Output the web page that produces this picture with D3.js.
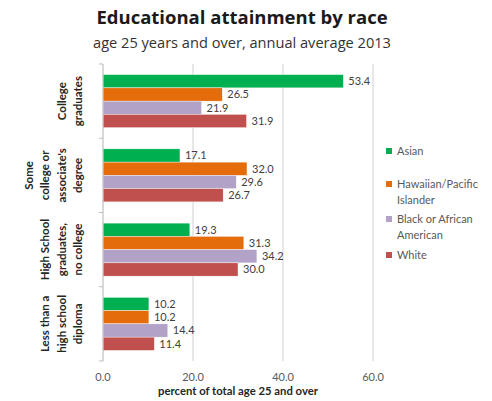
<!DOCTYPE html>
<html><head><meta charset="utf-8">
<script src="https://cdn.jsdelivr.net/npm/d3@7"></script>
<style>body{margin:0;background:#fff;}svg{display:block;font-family:Lato,"Open Sans",sans-serif;}</style>
</head><body>
<svg id="c" width="492" height="401"></svg>
<script>
const categories = ["College graduates","Some college or associate's degree","High School graduates, no college","Less than a high school diploma"];
const categoryLines = [["College","graduates"],["Some","college or","associate's","degree"],["High School","graduates,","no college"],["Less than a","high school","diploma"]];
const seriesNames = ["Asian","Hawaiian/Pacific Islander","Black or African American","White"];
const legendLines = [["Asian"],["Hawaiian/Pacific","Islander"],["Black or African","American"],["White"]];
const asian = [53.4,17.1,19.3,10.2];
const hawaiian = [26.5,32.0,31.3,10.2];
const black = [21.9,29.6,34.2,14.4];
const white = [31.9,26.7,30.0,11.4];
const xTicks = [0,20,40,60];
const colors = ["#00B050","#E46C0A","#B3A2C7","#C0504D"];
const series = [asian,hawaiian,black,white];

const svg = d3.select("#c");
const x = d3.scaleLinear().domain([0,60]).range([103,373]);
const y = d3.scaleBand().domain(categories).range([64,361]).paddingInner(0.286).paddingOuter(0.143);
const ys = d3.scaleBand().domain(seriesNames).range([0,y.bandwidth()]);

// title
svg.append("text").attr("x",242).attr("y",24).attr("text-anchor","middle").attr("font-family","'Open Sans',sans-serif")
  .attr("font-size",18.5).attr("font-weight","bold").attr("fill","#1a1a1a").text("Educational attainment by race");
svg.append("text").attr("x",242).attr("y",48).attr("text-anchor","middle").attr("font-family","'Open Sans',sans-serif")
  .attr("font-size",14.6).attr("fill","#333").text("age 25 years and over, annual average 2013");

// gridlines
svg.append("g").selectAll("line").data(xTicks.slice(1)).join("line")
  .attr("x1",d=>x(d)).attr("x2",d=>x(d)).attr("y1",64).attr("y2",361)
  .attr("stroke","#d9d9d9").attr("stroke-width",1.2);

// bars
const g = svg.append("g");
categories.forEach((c,ci)=>{
  series.forEach((s,si)=>{
    const yy = y(c)+ys(seriesNames[si]);
    g.append("rect").attr("x",x(0)).attr("y",yy).attr("width",x(s[ci])-x(0)).attr("height",ys.bandwidth())
      .attr("fill",colors[si]).attr("stroke","#fff").attr("stroke-width",0.4);
    g.append("text").attr("x",x(s[ci])+5).attr("y",yy+ys.bandwidth()/2).attr("dy","0.35em")
      .attr("font-size",11).attr("fill","#404040").text(d3.format(".1f")(s[ci]));
  });
});

// y axis line and ticks
svg.append("line").attr("x1",103).attr("x2",103).attr("y1",64).attr("y2",361).attr("stroke","#bfbfbf").attr("stroke-width",1.2);
const bounds = [64].concat(categories.map(c=>y(c)+y.bandwidth()+y.step()*y.paddingInner()/2)).slice(0,4).concat([361]);
svg.append("g").selectAll("line").data(bounds).join("line")
  .attr("x1",99).attr("x2",103).attr("y1",d=>d).attr("y2",d=>d).attr("stroke","#bfbfbf");

// category labels
categories.forEach((c,ci)=>{
  const cy = y(c)+y.bandwidth()/2;
  const lines = categoryLines[ci];
  const t = svg.append("text").attr("transform",`translate(0,${cy}) rotate(-90)`)
    .attr("text-anchor","middle").attr("font-size",11.5).attr("font-weight","bold").attr("fill","#262626");
  lines.forEach((l,li)=>{
    t.append("tspan").attr("x",0).attr("y",82-(lines.length-1-li)*16.5).text(l);
  });
});

// x axis tick labels
svg.append("g").selectAll("text").data(xTicks).join("text")
  .attr("x",d=>x(d)).attr("y",381).attr("text-anchor","middle").attr("font-size",11).attr("fill","#595959")
  .text(d=>d3.format(".1f")(d));
svg.append("text").attr("x",238).attr("y",395).attr("text-anchor","middle").attr("font-size",11.3)
  .attr("font-weight","bold").attr("fill","#262626").text("percent of total age 25 and over");

// legend
const legY = [151,184,219,255];
seriesNames.forEach((s,si)=>{
  svg.append("rect").attr("x",386).attr("y",legY[si]-3).attr("width",6).attr("height",6).attr("fill",colors[si]);
  const t = svg.append("text").attr("font-size",11).attr("fill","#595959");
  legendLines[si].forEach((l,li)=>{
    t.append("tspan").attr("x",397).attr("y",legY[si]+li*16).attr("dy","0.35em").text(l);
  });
});
</script>
</body></html>
